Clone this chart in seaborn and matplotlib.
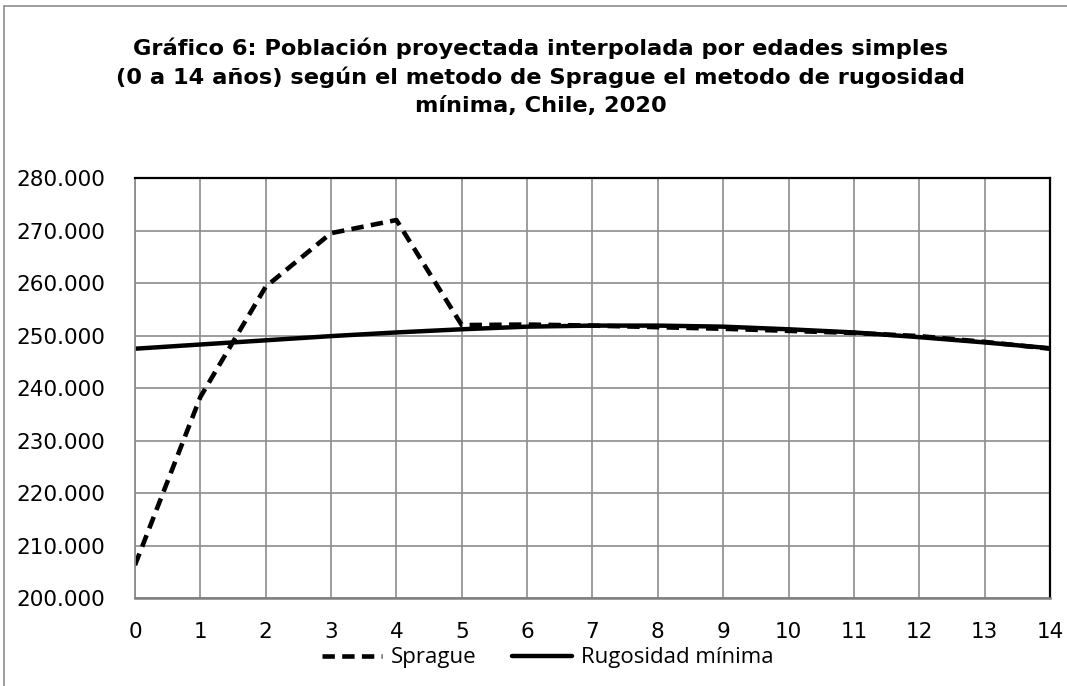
import pandas as pd
import matplotlib
matplotlib.use("Agg")
import matplotlib.pyplot as plt
import seaborn as sns
from matplotlib.lines import Line2D
from matplotlib.patches import Rectangle
from matplotlib.ticker import FuncFormatter

# datos
edades = list(range(15))
sprague = [206300, 238300, 259300, 269500, 272000, 252000, 252100, 251900,
           251600, 251300, 250900, 250500, 249900, 248800, 247500]
rugosidad = [247500, 248300, 249100, 249900, 250600, 251200, 251700, 251900,
             251900, 251700, 251200, 250600, 249700, 248700, 247600]

df = pd.DataFrame({"edad": edades, "Sprague": sprague, "Rugosidad mínima": rugosidad})

sns.set_style("white")
plt.rcParams["font.family"] = ["DejaVu Sans"]

fig = plt.figure(figsize=(10.67, 6.86), dpi=100)
ax = fig.add_axes([0.1265, 0.128, 0.8575, 0.6125])

guiones = [2.7, 1.6]
sns.lineplot(data=df, x="edad", y="Sprague", ax=ax, color="black", linewidth=3.3)
ax.lines[-1].set_dashes(guiones)
sns.lineplot(data=df, x="edad", y="Rugosidad mínima", ax=ax, color="black",
             linewidth=3.2)

ax.set_xlim(0, 14)
ax.set_ylim(200000, 280000)
ax.set_xticks(edades)
ax.set_yticks(range(200000, 280001, 10000))
ax.yaxis.set_major_formatter(FuncFormatter(lambda v, p: f"{int(v):,}".replace(",", ".")))
ax.grid(True, color="#8c8c8c", linewidth=1.2)
ax.set_axisbelow(True)
ax.set_xlabel("")
ax.set_ylabel("")
ax.tick_params(axis="both", labelsize=15.5, colors="black")
ax.tick_params(axis="x", direction="out", length=7, width=1.2, color="#8c8c8c", pad=10)
ax.tick_params(axis="y", length=0, pad=21.5)
ax.spines["left"].set_color("#8c8c8c")
ax.spines["left"].set_linewidth(1.3)
ax.spines["bottom"].set_color("#808080")
ax.spines["bottom"].set_linewidth(1.8)
for side in ["top", "right"]:
    ax.spines[side].set_color("black")
    ax.spines[side].set_linewidth(1.6)

titulo = ("Gráfico 6: Población proyectada interpolada por edades simples\n"
          "(0 a 14 años) según el metodo de Sprague el metodo de rugosidad\n"
          "mínima, Chile, 2020")
fig.text(0.507, 0.946, titulo, ha="center", va="top", fontsize=16.2,
         fontweight="bold", linespacing=1.47, color="black")

handles = [Line2D([], [], color="black", linewidth=3.3, dashes=guiones),
           Line2D([], [], color="black", linewidth=3.2)]
fig.legend(handles, ["Sprague", "Rugosidad mínima"], loc="center",
           bbox_to_anchor=(0.513, 0.041), ncol=2, frameon=False,
           handlelength=2.7, handletextpad=0.4, columnspacing=1.6,
           labelcolor="black", borderpad=0.2,
           prop={"family": ["Open Sans", "DejaVu Sans"], "size": 16})

fig.patches.append(Rectangle((0.004, -0.2), 1.3, 1.191, transform=fig.transFigure,
                             fill=False, edgecolor="#8c8c8c", linewidth=1.2))

fig.savefig("out.png", dpi=100)
